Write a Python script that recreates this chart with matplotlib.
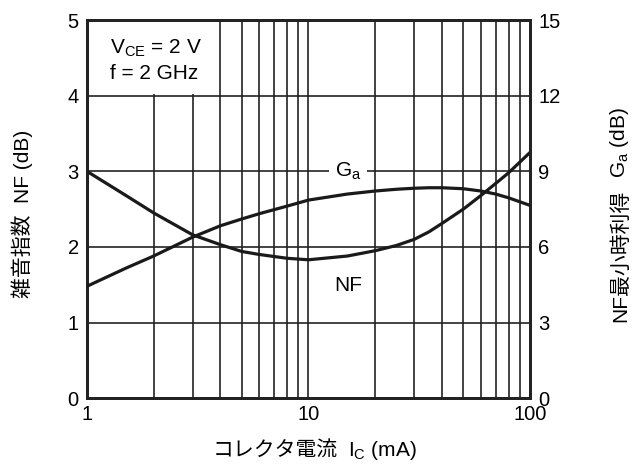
import matplotlib
matplotlib.use("Agg")
import matplotlib.pyplot as plt
from matplotlib.patches import Rectangle
from matplotlib.ticker import FixedLocator, NullFormatter

# Fonts: Arial-like latin text, Japanese fallback
plt.rcParams['font.family'] = ['Liberation Sans', 'Noto Sans CJK JP', 'DejaVu Sans']
plt.rcParams['mathtext.fontset'] = 'custom'
plt.rcParams['mathtext.rm'] = 'Liberation Sans'
plt.rcParams['mathtext.it'] = 'Liberation Sans'
plt.rcParams['font.size'] = 15

# Data
ic = [1, 1.5, 2, 3, 4, 5, 6, 8, 10, 15, 20, 25, 30, 35, 40, 50, 60, 70, 80, 100]
nf = [3.0, 2.68, 2.45, 2.16, 2.03, 1.94, 1.9, 1.85, 1.83, 1.88, 1.95, 2.02,
      2.1, 2.2, 2.31, 2.5, 2.68, 2.84, 2.98, 3.25]
ga = [4.44, 5.16, 5.64, 6.39, 6.84, 7.11, 7.32, 7.62, 7.86, 8.1, 8.22, 8.29,
      8.33, 8.35, 8.35, 8.31, 8.22, 8.1, 7.95, 7.65]

x_ticks = [1, 10, 100]
x_minor = [2, 3, 4, 5, 6, 7, 8, 9, 20, 30, 40, 50, 60, 70, 80, 90]
nf_ticks = [0, 1, 2, 3, 4, 5]
ga_ticks = [0, 3, 6, 9, 12, 15]

line_col = '#1a1a1a'

fig = plt.figure(figsize=(6.37, 4.70), dpi=100)
ax = fig.add_axes([0.1366, 0.153, 0.6954, 0.804])

ax.set_xscale('log')
ax.set_xlim(1, 100)
ax.set_ylim(0, 5)
ax.xaxis.set_major_locator(FixedLocator(x_ticks))
ax.xaxis.set_minor_locator(FixedLocator(x_minor))
ax.xaxis.set_minor_formatter(NullFormatter())
ax.set_xticklabels(['1', '10', '100'])
ax.set_yticks(nf_ticks)
ax.tick_params(which='both', length=0, labelsize=14.5, colors='black')
ax.tick_params(axis='x', pad=5)
ax.tick_params(axis='y', pad=6)

# grid
ax.grid(True, which='both', axis='x', color='#222222', linewidth=1.2)
ax.grid(True, which='major', axis='y', color='#222222', linewidth=1.2)
ax.set_axisbelow(True)
for s in ax.spines.values():
    s.set_linewidth(2.0)
    s.set_color('#222222')

# white panel behind the conditions text
ax.add_patch(Rectangle((1, 4.03), 2.8, 0.97, facecolor='white',
                       edgecolor='none', zorder=1))
ax.text(1.27, 4.63, 'V$_\\mathrm{CE}$ = 2 V', ha='left', va='center', zorder=4)
ax.text(1.27, 4.30, 'f = 2 GHz', ha='left', va='center', zorder=4)

ax.plot(ic, nf, color=line_col, linewidth=2.3, zorder=3)

ax2 = ax.twinx()
ax2.set_ylim(0, 15)
ax2.set_yticks(ga_ticks)
ax2.tick_params(length=0, pad=6, labelsize=14.5)
for s in ax2.spines.values():
    s.set_linewidth(2.0)
    s.set_color('#222222')
ax2.plot(ic, ga, color=line_col, linewidth=2.3, zorder=3)

# curve labels
ax.text(15.1, 3.0, 'G$_\\mathrm{a}$', ha='center', va='center', fontsize=15,
        bbox=dict(facecolor='white', edgecolor='none', pad=4), zorder=4)
ax.text(15.1, 1.49, 'NF', ha='center', va='center', fontsize=15, zorder=4)

# axis labels (Japanese part and math part drawn separately so CJK glyphs render)
fig.text(0.035, 0.545, '雑音指数  NF (dB)', rotation=90, ha='center', va='center',
         fontsize=15)

t_r = fig.text(0.974, 0.315, 'NF最小時利得', rotation=90, ha='center',
               va='bottom', fontsize=15)
ax.annotate('G$_\\mathrm{a}$ (dB)', xy=(0.5, 1), xycoords=t_r, xytext=(-1, 8),
            textcoords='offset points', rotation=90, ha='center', va='bottom',
            fontsize=15, annotation_clip=False)

t_x = fig.text(0.334, 0.041, 'コレクタ電流', ha='left', va='center', fontsize=15)
ax.annotate('I$_\\mathrm{C}$ (mA)', xy=(1, 0.5), xycoords=t_x, xytext=(7, 0.5),
            textcoords='offset points', ha='left', va='center', fontsize=15,
            annotation_clip=False)

fig.savefig('out.png', dpi=100, facecolor='white')
